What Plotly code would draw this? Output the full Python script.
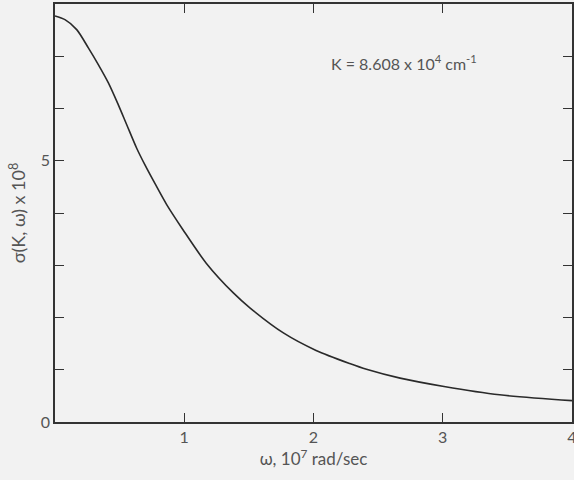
import plotly.graph_objects as go

omega = [0, 0.077, 0.168, 0.258, 0.335, 0.413, 0.49, 0.555, 0.632, 0.696, 0.774, 0.864, 0.99, 1.17, 1.38, 1.51, 1.77, 2.02, 2.28, 2.41, 2.67, 3.01, 3.44, 4.0]
sigma = [7.77, 7.70, 7.51, 7.16, 6.84, 6.49, 6.07, 5.69, 5.24, 4.92, 4.56, 4.16, 3.68, 3.04, 2.47, 2.18, 1.70, 1.37, 1.12, 1.01, 0.84, 0.68, 0.52, 0.41]

x_tickvals = [0, 1, 2, 3, 4]
x_ticktext = ["", "1", "2", "3", "4"]
y_tickvals = [0, 1, 2, 3, 4, 5, 6, 7, 8]
y_ticktext = ["0", "", "", "", "", "5", "", "", ""]

bg = "#f2f2f2"
ink = "#333333"
txt = "#555555"
font_family = "Lato, 'Open Sans', sans-serif"

fig = go.Figure()
fig.add_trace(go.Scatter(x=omega, y=sigma, mode="lines",
                         line=dict(color="#2a2a2a", width=1.6, shape="spline", smoothing=0.8),
                         showlegend=False, hoverinfo="skip"))

axis_common = dict(showgrid=False, zeroline=False, showline=True, linecolor=ink, linewidth=1.5,
                   mirror="ticks", ticks="inside", ticklen=9, tickwidth=1.3, tickcolor=ink,
                   automargin=False, ticklabeloverflow="allow",
                   tickfont=dict(family=font_family, size=16, color=txt))

fig.update_xaxes(range=[0, 4], tickvals=x_tickvals, ticktext=x_ticktext,
                 title=dict(text="ω, 10<sup>7</sup> rad/sec", font=dict(family=font_family, size=17, color=txt), standoff=6),
                 **axis_common)
fig.update_yaxes(range=[0, 8], tickvals=y_tickvals, ticktext=y_ticktext,
                 title=dict(text="σ(K, ω) x 10<sup>8</sup>", font=dict(family=font_family, size=18, color=txt), standoff=10),
                 **axis_common)

fig.add_annotation(x=2.7, y=6.88, xref="x", yref="y", showarrow=False,
                   text="K = 8.608 x 10<sup>4</sup> cm<sup>-1</sup>",
                   font=dict(family=font_family, size=16, color=txt))

fig.update_layout(width=574, height=480, paper_bgcolor=bg, plot_bgcolor=bg,
                  margin=dict(l=55, r=2, t=4, b=58))

fig.write_html("out.html", config={"displayModeBar": False},
               post_script="document.body.style.margin='0px';document.body.style.background='#f2f2f2';")
